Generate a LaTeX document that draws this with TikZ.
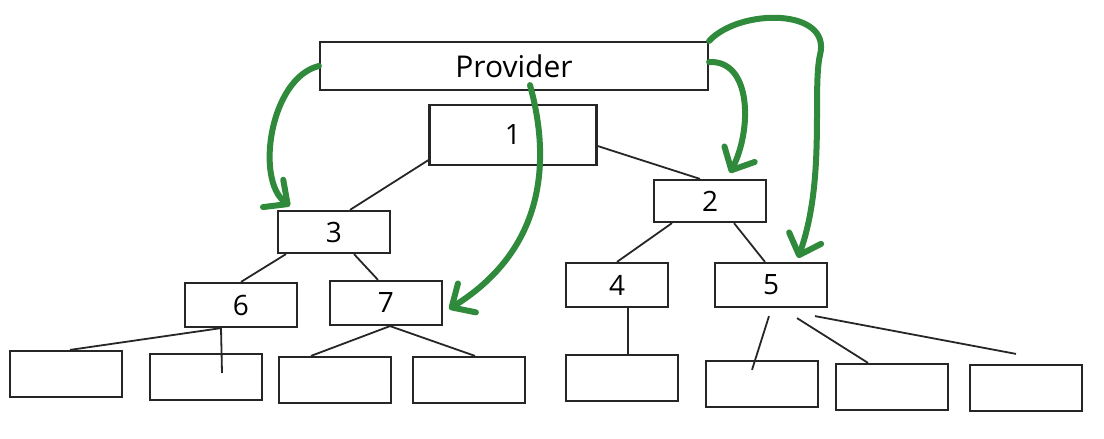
\documentclass[tikz,border=0pt]{standalone}
\usepackage{fontspec}
\setmainfont{Open Sans}
\usepackage{xcolor}
\usepackage{tikz}
\usetikzlibrary{arrows.meta, positioning}
\definecolor{flowgreen}{RGB}{47,139,59}
\tikzset{
  tbox/.style={rectangle, draw=black!85, line width=1.1pt, fill=white,
               minimum width=56pt, minimum height=21pt, inner sep=0pt,
               font=\fontsize{14}{16}\selectfont},
  leaf/.style={tbox, minimum height=23pt},
  edge/.style={draw=black!85, line width=0.9pt},
  inject/.style={draw=flowgreen, line width=3pt, line cap=round,
                 -{Straight Barb[length=9pt, width=17pt, round]}},
}
\begin{document}
\begin{tikzpicture}[x=0.5pt, y=-0.5pt]
  \useasboundingbox (0,0) rectangle (1104,439);

  % Provider and inner tree
  \node[tbox, minimum width=194pt, minimum height=24pt,
        font=\fontsize{15}{17}\selectfont] (prov) at (514,66) {Provider};
  \node[tbox, minimum width=83.5pt, minimum height=30pt] (n1) at (513,135) {1};
  \node[tbox] (n2) at (710,201) {2};
  \node[tbox] (n3) at (334,232) {3};
  \node[tbox, minimum width=51pt, minimum height=22pt] (n4) at (617,285) {4};
  \node[tbox, minimum height=22pt] (n5) at (771,285) {5};
  \node[tbox, minimum height=22pt] (n6) at (241,305) {6};
  \node[tbox, minimum height=22pt] (n7) at (386,303) {7};

  % Leaves
  \node[leaf] (l1) at (66,374) {};
  \node[leaf] (l2) at (206,377) {};
  \node[leaf] (l3) at (335,380) {};
  \node[leaf] (l4) at (469,380) {};
  \node[leaf] (r1) at (622,378) {};
  \node[leaf] (r2) at (762,384) {};
  \node[leaf] (r3) at (892,387) {};
  \node[leaf] (r4) at (1026,388) {};
  \coordinate (c6) at (222,373);

  % Tree edges
  \draw[edge] ([yshift=3pt]n1.south west) -- ([xshift=8pt]n3.north);
  \draw[edge] ([yshift=-5.5pt]n1.east) -- ([xshift=-5pt]n2.north);
  \draw[edge] ([xshift=-19pt]n2.south) -- (n4.north);
  \draw[edge] ([xshift=12pt]n2.south) -- ([xshift=-3pt]n5.north);
  \draw[edge] ([xshift=-24pt]n3.south) -- (n6.north);
  \draw[edge] ([xshift=10pt]n3.south) -- ([xshift=-4pt]n7.north);
  \draw[edge] ([xshift=-10pt]n6.south) -- ([xshift=2pt]l1.north);
  \draw[edge] ([xshift=-10pt]n6.south) -- (c6);
  \draw[edge] ([xshift=2pt]n7.south) -- ([xshift=-12pt]l3.north);
  \draw[edge] ([xshift=2pt]n7.south) -- ([xshift=3pt]l4.north);
  \draw[edge] ([xshift=5.5pt]n4.south) -- ([xshift=3pt]r1.north);
  \draw[edge] ([xshift=-1pt,yshift=-4pt]n5.south) -- ([xshift=-5pt,yshift=-5pt]r2.north);
  \draw[edge] ([xshift=13pt,yshift=-5pt]n5.south) -- ([xshift=-12pt]r3.north);
  \draw[edge] ([xshift=22pt,yshift=-4pt]n5.south) -- ([xshift=-5pt,yshift=5pt]r4.north);

  % Green arrows from the provider
  \draw[inject] (prov.west) .. controls (270,78) and (255,180)
        .. ([xshift=-22pt,yshift=2pt]n3.north);
  \draw[inject] ([xshift=8pt,yshift=3pt]prov.south) .. controls (548,150) and (552,245)
        .. ([xshift=3pt,yshift=-3pt]n7.east);
  \draw[inject] ([yshift=2pt]prov.east) .. controls (752,60) and (752,130)
        .. ([xshift=10pt,yshift=3pt]n2.north);
  \draw[inject] (prov.north east) .. controls (740,8) and (832,8) .. (820,55)
        .. controls (812,90) and (826,180) .. ([xshift=13.5pt,yshift=2pt]n5.north);
\end{tikzpicture}
\end{document}
